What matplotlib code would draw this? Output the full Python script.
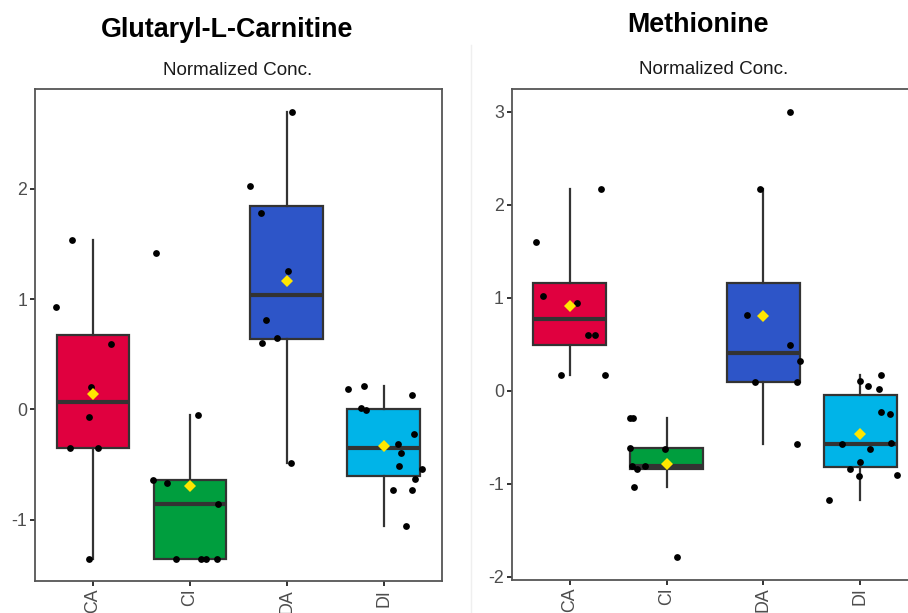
import matplotlib
matplotlib.use("Agg")
import matplotlib.pyplot as plt
from matplotlib.lines import Line2D
import numpy as np

plt.rcParams['font.family'] = ['Liberation Sans', 'DejaVu Sans']

categories = ["CA", "CI", "DA", "DI"]
colors = ["#E0003F", "#009E3E", "#2D55C8", "#00B4E8"]

# ---- Glutaryl-L-Carnitine ----
glu_CA = [1.54, 0.926, 0.594, 0.20, -0.065, -0.35, -0.354, -1.354]
glu_CA_jit = [-0.22, -0.38, 0.18, -0.02, -0.045, -0.24, 0.05, -0.045]
glu_CI = [1.42, -0.055, -0.637, -0.671, -0.858, -1.354, -1.354, -1.354, -1.354]
glu_CI_jit = [-0.35, 0.08, -0.385, -0.24, 0.29, -0.145, 0.117, 0.165, 0.28]
glu_DA = [2.70, 2.03, 1.785, 1.258, 0.812, 0.60, 0.646, -0.489]
glu_DA_jit = [0.055, -0.375, -0.27, 0.01, -0.21, -0.26, -0.105, 0.048]
glu_DI = [0.185, 0.212, 0.012, -0.006, 0.132, -0.222, -0.314, -0.394, -0.514,
          -0.542, -0.628, -0.732, -0.732, -1.062]
glu_DI_jit = [-0.368, -0.206, -0.234, -0.18, 0.296, 0.313, 0.151, 0.175, 0.155,
              0.392, 0.326, 0.093, 0.289, 0.234]

# ---- Methionine ----
met_CA = [1.595, 1.017, 0.945, 0.60, 0.60, 0.167, 0.167, 2.165]
met_CA_jit = [-0.35, -0.28, 0.079, 0.189, 0.26, -0.089, 0.36, 0.326]
met_CI = [-0.298, -0.298, -0.614, -0.632, -0.807, -0.839, -0.807, -1.039, -1.791]
met_CI_jit = [-0.378, -0.35, -0.381, -0.021, -0.354, -0.306, -0.223, -0.333, 0.11]
met_DA = [3.0, 2.173, 0.814, 0.49, 0.32, 0.091, 0.094, -0.57]
met_DA_jit = [0.278, -0.031, -0.165, 0.271, 0.375, -0.089, 0.344, 0.347]
met_DI = [-1.177, 0.102, 0.047, 0.171, 0.018, -0.229, -0.254, -0.578, -0.56,
          -0.625, -0.839, -0.763, -0.923, -0.912]
met_DI_jit = [-0.323, -0.003, 0.082, 0.213, 0.196, 0.21, 0.306, -0.186, 0.32,
              0.1, -0.11, -0.003, -0.014, 0.375]

panels = [
    dict(title="Glutaryl-L-Carnitine", data=[glu_CA, glu_CI, glu_DA, glu_DI],
         jit=[glu_CA_jit, glu_CI_jit, glu_DA_jit, glu_DI_jit], yticks=[-1, 0, 1, 2]),
    dict(title="Methionine", data=[met_CA, met_CI, met_DA, met_DI],
         jit=[met_CA_jit, met_CI_jit, met_DA_jit, met_DI_jit], yticks=[-2, -1, 0, 1, 2, 3]),
]

W, H = 908, 613
fig = plt.figure(figsize=(W / 100, H / 100), dpi=100)

axes_px = [(35, 441.7, 89.3, 581.0), (511.7, 918.4, 89.3, 579.5)]
title_pos = [(227, 36.7), (698, 31.7)]
sub_pos = [(238, 75), (714, 74)]

# faint separator between panels
fig.add_artist(Line2D([470.7 / W, 470.7 / W], [0, 1 - 45 / H], transform=fig.transFigure,
                      color="#EFEFEF", lw=1))

for p, (x0, x1, y0, y1), tp, sp in zip(panels, axes_px, title_pos, sub_pos):
    ax = fig.add_axes([x0 / W, 1 - y1 / H, (x1 - x0) / W, (y1 - y0) / H])
    pos = np.arange(1, len(categories) + 1)
    bp = ax.boxplot(p["data"], positions=pos, widths=0.75, whis=1.5, showfliers=False,
                    patch_artist=True, showcaps=False, zorder=2,
                    boxprops=dict(edgecolor="#333333", linewidth=1.6),
                    whiskerprops=dict(color="#333333", linewidth=1.6),
                    medianprops=dict(color="#333333", linewidth=3.0))
    for patch, c in zip(bp["boxes"], colors):
        patch.set_facecolor(c)
    for i, (vals, jit) in enumerate(zip(p["data"], p["jit"])):
        xs = pos[i] + np.array(jit)
        ax.scatter(xs, vals, s=24, color="black", zorder=3, linewidths=0)
        ax.plot([pos[i]], [np.mean(vals)], marker="D", color="#FFE600", markersize=6.5,
                markeredgewidth=0, zorder=4, linestyle="none")
    allv = np.concatenate([np.array(v) for v in p["data"]])
    lo, hi = allv.min(), allv.max()
    pad = 0.05 * (hi - lo)
    ax.set_ylim(lo - pad, hi + pad)
    ax.set_xlim(0.4, len(categories) + 0.6)
    ax.set_xticks(pos)
    ax.set_xticklabels(categories, rotation=90, va="top", ha="center")
    ax.set_yticks(p["yticks"])
    ax.set_yticklabels([str(t) for t in p["yticks"]])
    ax.tick_params(axis="both", length=3.6, width=1.4, color="#333333",
                   labelcolor="#4D4D4D", labelsize=12.8, pad=2)
    for s in ax.spines.values():
        s.set_color("#555555")
        s.set_linewidth(1.3)
    fig.text(tp[0] / W, 1 - tp[1] / H, p["title"], ha="center", va="baseline",
             fontsize=19.4, fontweight="bold", color="black")
    fig.text(sp[0] / W, 1 - sp[1] / H, "Normalized Conc.", ha="center", va="baseline",
             fontsize=13.6, color="#1A1A1A")

fig.savefig("out.png", dpi=100)
